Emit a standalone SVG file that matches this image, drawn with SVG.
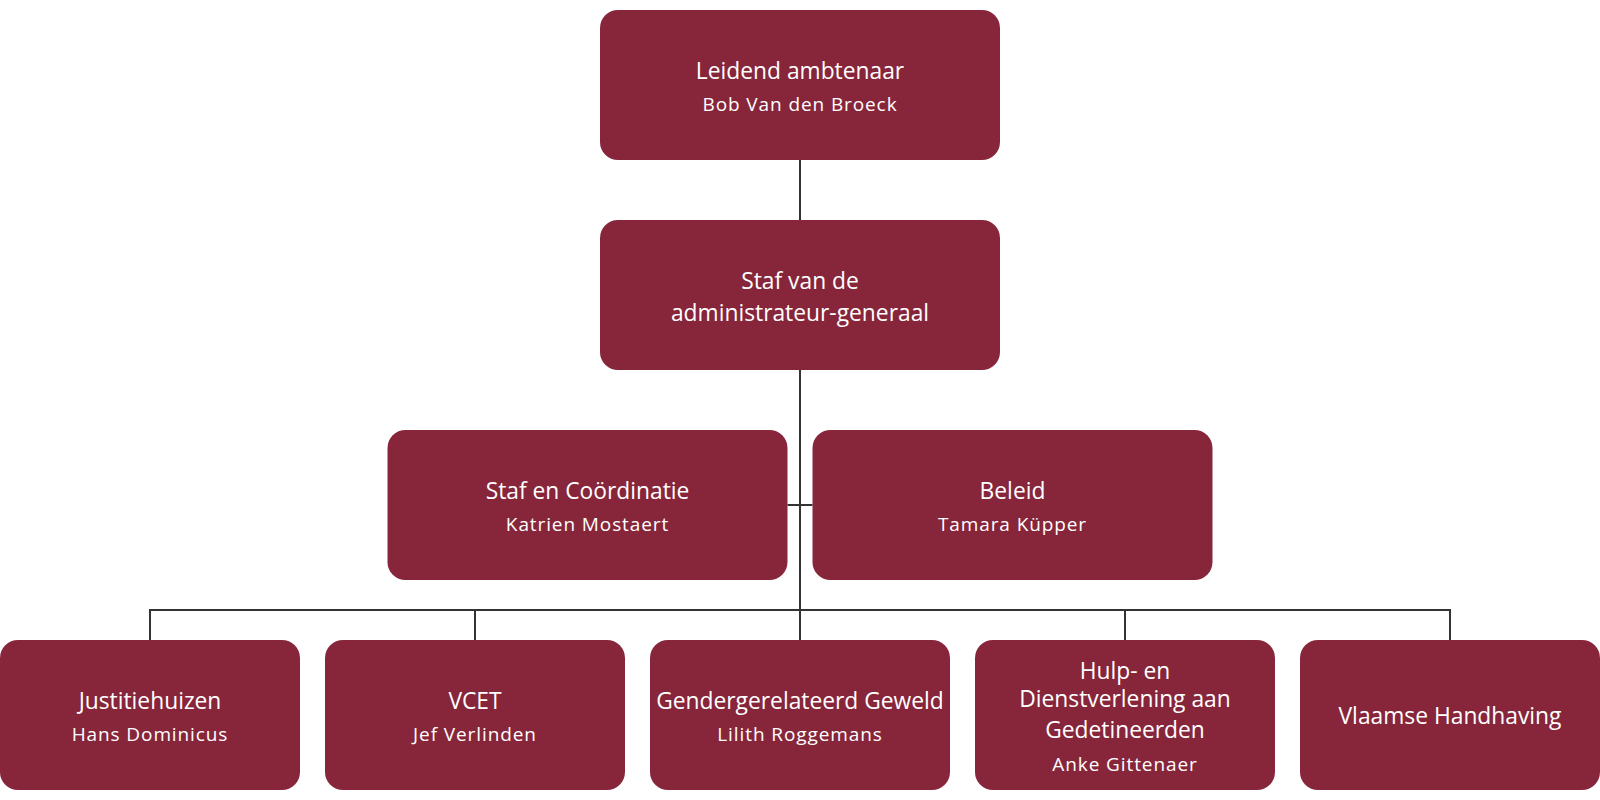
<svg xmlns="http://www.w3.org/2000/svg" width="1600" height="800" viewBox="0 0 1600 800">
<style>
.box{fill:#87263B}
.t{font-family:"Open Sans","Noto Sans",sans-serif;font-size:22.8px;fill:#fff;text-anchor:middle}
.s{font-family:"Open Sans","Noto Sans",sans-serif;font-size:19px;fill:#fff;text-anchor:middle;letter-spacing:0.9px}
.c{stroke:#333;stroke-width:2;fill:none}
</style>
<rect width="1600" height="800" fill="#fff"/>
<g id="connectors">
<path class="c" d="M800 160V640"/>
<path class="c" d="M787.5 505H812.5"/>
<path class="c" d="M150 640V610H1450V640"/>
<path class="c" d="M475 610V640"/>
<path class="c" d="M1125 610V640"/>
</g>
<g id="n1"><rect class="box" x="600" y="10" width="400" height="150" rx="18"/><text class="t" x="800" y="79">Leidend ambtenaar</text><text class="s" x="800" y="111">Bob Van den Broeck</text></g>
<g id="n2"><rect class="box" x="600" y="220" width="400" height="150" rx="18"/><text class="t" x="800" y="289">Staf van de</text><text class="t" x="800" y="321">administrateur-generaal</text></g>
<g id="n3"><rect class="box" x="387.5" y="430" width="400" height="150" rx="18"/><text class="t" x="587.5" y="499">Staf en Coördinatie</text><text class="s" x="587.5" y="531">Katrien Mostaert</text></g>
<g id="n4"><rect class="box" x="812.5" y="430" width="400" height="150" rx="18"/><text class="t" x="1012.5" y="499">Beleid</text><text class="s" x="1012.5" y="531">Tamara Küpper</text></g>
<g id="n5"><rect class="box" x="0" y="640" width="300" height="150" rx="18"/><text class="t" x="150" y="709">Justitiehuizen</text><text class="s" x="150" y="741">Hans Dominicus</text></g>
<g id="n6"><rect class="box" x="325" y="640" width="300" height="150" rx="18"/><text class="t" x="475" y="709">VCET</text><text class="s" x="475" y="741">Jef Verlinden</text></g>
<g id="n7"><rect class="box" x="650" y="640" width="300" height="150" rx="18"/><text class="t" x="800" y="709">Gendergerelateerd Geweld</text><text class="s" x="800" y="741">Lilith Roggemans</text></g>
<g id="n8"><rect class="box" x="975" y="640" width="300" height="150" rx="18"/><text class="t" x="1125" y="679">Hulp- en</text><text class="t" x="1125" y="707">Dienstverlening aan</text><text class="t" x="1125" y="738">Gedetineerden</text><text class="s" x="1125" y="771">Anke Gittenaer</text></g>
<g id="n9"><rect class="box" x="1300" y="640" width="300" height="150" rx="18"/><text class="t" x="1450" y="724">Vlaamse Handhaving</text></g>
</svg>
